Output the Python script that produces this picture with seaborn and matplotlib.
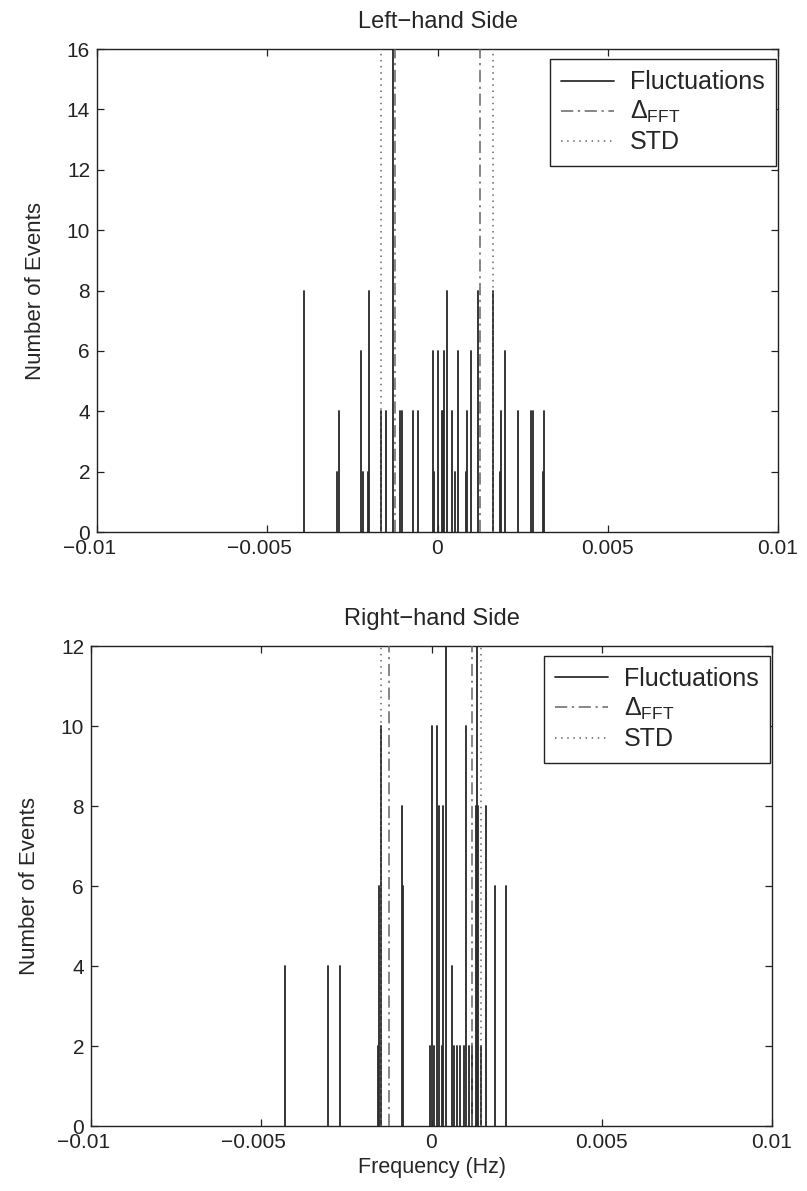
import numpy as np
import pandas as pd
import matplotlib
matplotlib.use("Agg")
import matplotlib.pyplot as plt
import seaborn as sns
from matplotlib.lines import Line2D
from matplotlib.transforms import ScaledTranslation

# ---------------- data (frequency in Hz, number of events) ----------------
left_freq = [-0.00392, -0.00294, -0.00288, -0.00224, -0.00220, -0.00203, -0.00200,
             -0.00165, -0.00150, -0.00130, -0.00111, -0.00105, -0.00073, -0.00058,
             -0.00012, -0.00010, 0.00002, 0.00013, 0.00016, 0.00018, 0.00027,
             0.00044, 0.00050, 0.00059, 0.00085, 0.00088, 0.00098, 0.00118,
             0.00163, 0.00184, 0.00186, 0.00198, 0.00237, 0.00274, 0.00280,
             0.00310, 0.00312]
left_count = [8, 2, 4, 6, 2, 2, 8,
              4, 4, 16, 4, 4, 4, 4,
              6, 2, 6, 4, 4, 6, 8,
              4, 2, 6, 2, 4, 6, 8,
              8, 2, 4, 6, 4, 4, 4,
              2, 4]
left_delta = [-0.00124, 0.00124]
left_std = [-0.00166, 0.00163]

right_freq = [-0.00431, -0.00304, -0.00269, -0.00157, -0.00153, -0.00147,
              -0.00088, -0.00084, -0.00003, 0.00002, 0.00008, 0.00015, 0.00022,
              0.00030, 0.00034, 0.00043, 0.00061, 0.00066, 0.00075, 0.00085,
              0.00095, 0.00100, 0.00110, 0.00120, 0.00130, 0.00134, 0.00138,
              0.00146, 0.00161, 0.00187, 0.00219]
right_count = [4, 4, 4, 2, 6, 10,
               8, 6, 2, 10, 2, 10, 8,
               2, 8, 12, 4, 2, 2, 2,
               2, 10, 2, 2, 8, 12, 8,
               2, 8, 6, 6]
right_delta = [-0.00125, 0.00120]
right_std = [-0.00148, 0.00144]

x_ticks = [-0.01, -0.005, 0, 0.005, 0.01]
x_tick_labels = ["\u22120.01", "\u22120.005", "0", "0.005", "0.01"]
left_yticks = list(range(0, 17, 2))
right_yticks = list(range(0, 13, 2))
titles = ["Left\u2212hand Side", "Right\u2212hand Side"]
legend_labels = ["Fluctuations", r"$\mathregular{\Delta_{FFT}}$", "STD"]
x_label = "Frequency (Hz)"
y_label = "Number of Events"

# ---------------- style ----------------
sns.set_theme(style="ticks")
plt.rcParams["font.family"] = ["Liberation Sans", "DejaVu Sans"]
plt.rcParams["mathtext.fontset"] = "custom"
plt.rcParams["mathtext.rm"] = "Liberation Sans"
plt.rcParams["mathtext.it"] = "Liberation Sans:italic"
plt.rcParams["mathtext.bf"] = "Liberation Sans:bold"
plt.rcParams["axes.unicode_minus"] = True

FS_TICK = 15
FS_XLAB = 15.5
FS_YLAB = 16
FS_TITLE = 17
FS_LEG = 18
STEM = "#2e2e2e"
REF = "#666666"
DASHDOT = (0, (8, 3, 1.5, 3))
DOTTED = (0, (1, 3))

fig = plt.figure(figsize=(8.07, 11.91), dpi=100)
ax_top = fig.add_axes([97 / 807, (1191 - 532) / 1191, 681 / 807, 483 / 1191])
ax_bot = fig.add_axes([91 / 807, (1191 - 1126) / 1191, 681 / 807, 480 / 1191])


def stems_frame(freq, count):
    n = len(freq)
    return pd.DataFrame({
        "f": np.repeat(freq, 2),
        "n": np.ravel(np.column_stack([np.zeros(n), count])),
        "id": np.repeat(np.arange(n), 2),
    })


panels = [
    (ax_top, left_freq, left_count, left_delta, left_std, left_yticks, titles[0]),
    (ax_bot, right_freq, right_count, right_delta, right_std, right_yticks, titles[1]),
]

for ax, freq, count, delta, std, yticks, title in panels:
    df = stems_frame(freq, count)
    sns.lineplot(data=df, x="f", y="n", units="id", estimator=None, sort=False,
                 ax=ax, color=STEM, lw=1.35, legend=False)
    for d in delta:
        ax.axvline(d, color=REF, lw=1.1, linestyle=DASHDOT, zorder=3)
    for s in std:
        ax.axvline(s, color=REF, lw=1.1, linestyle=DOTTED, zorder=3)

    ax.set_xlim(-0.01, 0.01)
    ax.set_ylim(0, yticks[-1])
    ax.set_xticks(x_ticks)
    ax.set_xticklabels(x_tick_labels, fontsize=FS_TICK)
    ax.set_yticks(yticks)
    ax.set_yticklabels([str(v) for v in yticks], fontsize=FS_TICK)
    ax.tick_params(direction="in", top=True, right=True, length=5, width=0.9,
                   colors="#222222", pad=5)
    # MATLAB-style: centre the digits, let the minus sign hang to the left
    for lab, val in zip(ax.get_xticklabels(), x_ticks):
        if val < 0:
            lab.set_transform(lab.get_transform() +
                              ScaledTranslation(-5.5 / 72, 0, fig.dpi_scale_trans))
    for sp in ax.spines.values():
        sp.set_visible(True)
        sp.set_linewidth(1.0)
        sp.set_color("#222222")
    ax.set_xlabel("")
    ax.set_ylabel(y_label, fontsize=FS_YLAB, labelpad=15)
    ax.set_title(title, fontsize=FS_TITLE, pad=15)

    handles = [
        Line2D([], [], color=STEM, lw=1.3),
        Line2D([], [], color=REF, lw=1.1, linestyle=DASHDOT),
        Line2D([], [], color=REF, lw=1.1, linestyle=DOTTED),
    ]
    leg = ax.legend(handles, legend_labels, loc="upper right",
                    bbox_to_anchor=(1 - 2 / 681, 1 - 10 / 483), borderaxespad=0,
                    fontsize=FS_LEG, frameon=True, fancybox=False, framealpha=1,
                    edgecolor="#222222", handlelength=2.1, handletextpad=0.65,
                    labelspacing=0.2, borderpad=0.45)
    leg.get_frame().set_linewidth(1.0)

ax_bot.set_xlabel(x_label, fontsize=FS_XLAB, labelpad=4)

fig.savefig("out.png", dpi=100, facecolor="white")
